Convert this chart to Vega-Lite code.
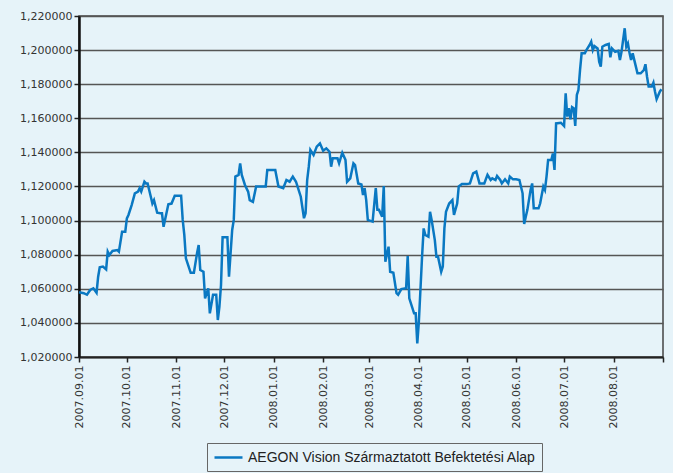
{
  "$schema": "https://vega.github.io/schema/vega-lite/v6.json",
  "autosize": {"type": "none"},
  "width": 584,
  "height": 341,
  "padding": {"left": 79, "top": 16, "right": 10, "bottom": 116},
  "background": "#e6f3f9",
  "config": {
    "view": {"stroke": "#444444", "strokeWidth": 1.5, "fill": "#e6f3f9"},
    "font": "DejaVu Sans",
    "axis": {"labelFont": "DejaVu Sans", "labelFontSize": 11, "labelColor": "#333333", "tickColor": "#222222", "domainColor": "#222222"}
  },
  "data": {"values": [
    {"d":"2007-09-01","v":1.058},{"d":"2007-09-04","v":1.0574},{"d":"2007-09-06","v":1.0565},{"d":"2007-09-08","v":1.0593},
    {"d":"2007-09-10","v":1.0603},{"d":"2007-09-12","v":1.0577},{"d":"2007-09-13","v":1.0671},{"d":"2007-09-14","v":1.0726},
    {"d":"2007-09-16","v":1.073},{"d":"2007-09-18","v":1.0714},{"d":"2007-09-19","v":1.0818},{"d":"2007-09-20","v":1.0798},
    {"d":"2007-09-22","v":1.0822},{"d":"2007-09-25","v":1.0827},{"d":"2007-09-26","v":1.0818},{"d":"2007-09-28","v":1.0935},
    {"d":"2007-09-30","v":1.0935},{"d":"2007-10-01","v":1.1013},{"d":"2007-10-02","v":1.1033},{"d":"2007-10-04","v":1.1091},
    {"d":"2007-10-06","v":1.116},{"d":"2007-10-08","v":1.117},{"d":"2007-10-09","v":1.119},{"d":"2007-10-10","v":1.117},
    {"d":"2007-10-12","v":1.1228},{"d":"2007-10-13","v":1.1218},{"d":"2007-10-14","v":1.1218},{"d":"2007-10-16","v":1.114},
    {"d":"2007-10-17","v":1.11},{"d":"2007-10-18","v":1.112},{"d":"2007-10-20","v":1.1046},{"d":"2007-10-22","v":1.1043},
    {"d":"2007-10-23","v":1.1043},{"d":"2007-10-24","v":1.0964},{"d":"2007-10-27","v":1.1096},{"d":"2007-10-29","v":1.11},
    {"d":"2007-10-31","v":1.1146},{"d":"2007-11-04","v":1.1146},{"d":"2007-11-05","v":1.1004},{"d":"2007-11-06","v":1.0916},
    {"d":"2007-11-07","v":1.0779},{"d":"2007-11-10","v":1.0694},{"d":"2007-11-12","v":1.0694},{"d":"2007-11-14","v":1.081},
    {"d":"2007-11-15","v":1.0857},{"d":"2007-11-16","v":1.071},{"d":"2007-11-18","v":1.07},{"d":"2007-11-19","v":1.0544},
    {"d":"2007-11-21","v":1.0603},{"d":"2007-11-22","v":1.0456},{"d":"2007-11-24","v":1.0565},{"d":"2007-11-26","v":1.0565},
    {"d":"2007-11-27","v":1.0417},{"d":"2007-11-28","v":1.0495},{"d":"2007-11-29","v":1.0622},{"d":"2007-11-30","v":1.0903},
    {"d":"2007-12-03","v":1.0903},{"d":"2007-12-04","v":1.0671},{"d":"2007-12-06","v":1.0945},{"d":"2007-12-07","v":1.1004},
    {"d":"2007-12-08","v":1.1258},{"d":"2007-12-10","v":1.1268},{"d":"2007-12-11","v":1.1336},{"d":"2007-12-12","v":1.1268},
    {"d":"2007-12-14","v":1.1209},{"d":"2007-12-16","v":1.117},{"d":"2007-12-17","v":1.112},{"d":"2007-12-19","v":1.111},
    {"d":"2007-12-21","v":1.12},{"d":"2007-12-27","v":1.12},{"d":"2007-12-28","v":1.1297},{"d":"2008-01-02","v":1.1297},
    {"d":"2008-01-04","v":1.12},{"d":"2008-01-07","v":1.119},{"d":"2008-01-09","v":1.1238},{"d":"2008-01-11","v":1.1228},
    {"d":"2008-01-13","v":1.1258},{"d":"2008-01-15","v":1.1228},{"d":"2008-01-18","v":1.114},{"d":"2008-01-20","v":1.1014},
    {"d":"2008-01-21","v":1.1043},{"d":"2008-01-22","v":1.1238},{"d":"2008-01-23","v":1.1316},{"d":"2008-01-24","v":1.1414},
    {"d":"2008-01-26","v":1.1385},{"d":"2008-01-28","v":1.1434},{"d":"2008-01-30","v":1.1453},{"d":"2008-02-01","v":1.141},
    {"d":"2008-02-03","v":1.1424},{"d":"2008-02-05","v":1.1404},{"d":"2008-02-06","v":1.1316},{"d":"2008-02-07","v":1.1365},
    {"d":"2008-02-10","v":1.1365},{"d":"2008-02-11","v":1.1336},{"d":"2008-02-13","v":1.1398},{"d":"2008-02-15","v":1.1356},
    {"d":"2008-02-16","v":1.1228},{"d":"2008-02-18","v":1.1248},{"d":"2008-02-20","v":1.1336},{"d":"2008-02-21","v":1.1326},
    {"d":"2008-02-23","v":1.1218},{"d":"2008-02-25","v":1.1212},{"d":"2008-02-26","v":1.115},{"d":"2008-02-27","v":1.119},
    {"d":"2008-02-28","v":1.112},{"d":"2008-02-29","v":1.1004},{"d":"2008-03-03","v":1.0994},{"d":"2008-03-05","v":1.119},
    {"d":"2008-03-06","v":1.1063},{"d":"2008-03-07","v":1.1063},{"d":"2008-03-09","v":1.1023},{"d":"2008-03-10","v":1.1203},
    {"d":"2008-03-11","v":1.0759},{"d":"2008-03-13","v":1.0847},{"d":"2008-03-14","v":1.07},{"d":"2008-03-16","v":1.0694},
    {"d":"2008-03-18","v":1.0574},{"d":"2008-03-19","v":1.0565},{"d":"2008-03-21","v":1.0598},{"d":"2008-03-24","v":1.0603},
    {"d":"2008-03-25","v":1.0792},{"d":"2008-03-26","v":1.0544},{"d":"2008-03-29","v":1.0456},{"d":"2008-03-30","v":1.0456},
    {"d":"2008-03-31","v":1.028},{"d":"2008-04-01","v":1.0407},{"d":"2008-04-03","v":1.0788},{"d":"2008-04-04","v":1.0954},
    {"d":"2008-04-05","v":1.0916},{"d":"2008-04-07","v":1.0906},{"d":"2008-04-08","v":1.1052},{"d":"2008-04-09","v":1.1004},
    {"d":"2008-04-11","v":1.0886},{"d":"2008-04-12","v":1.0788},{"d":"2008-04-13","v":1.0788},{"d":"2008-04-15","v":1.07},
    {"d":"2008-04-16","v":1.073},{"d":"2008-04-17","v":1.0954},{"d":"2008-04-18","v":1.1052},{"d":"2008-04-20","v":1.11},
    {"d":"2008-04-22","v":1.112},{"d":"2008-04-23","v":1.1033},{"d":"2008-04-25","v":1.11},{"d":"2008-04-26","v":1.12},
    {"d":"2008-04-28","v":1.1214},{"d":"2008-05-01","v":1.1214},{"d":"2008-05-03","v":1.1218},{"d":"2008-05-05","v":1.1277},
    {"d":"2008-05-07","v":1.1287},{"d":"2008-05-09","v":1.1218},{"d":"2008-05-12","v":1.1218},{"d":"2008-05-14","v":1.1268},
    {"d":"2008-05-16","v":1.1238},{"d":"2008-05-17","v":1.1248},{"d":"2008-05-19","v":1.1238},{"d":"2008-05-20","v":1.1262},
    {"d":"2008-05-22","v":1.1238},{"d":"2008-05-23","v":1.1218},{"d":"2008-05-25","v":1.1242},{"d":"2008-05-27","v":1.1218},
    {"d":"2008-05-28","v":1.1258},{"d":"2008-05-30","v":1.1242},{"d":"2008-06-01","v":1.1242},{"d":"2008-06-03","v":1.1238},
    {"d":"2008-06-05","v":1.116},{"d":"2008-06-06","v":1.098},{"d":"2008-06-07","v":1.1023},{"d":"2008-06-08","v":1.1063},
    {"d":"2008-06-10","v":1.118},{"d":"2008-06-11","v":1.1218},{"d":"2008-06-12","v":1.1072},{"d":"2008-06-15","v":1.1072},
    {"d":"2008-06-16","v":1.11},{"d":"2008-06-18","v":1.12},{"d":"2008-06-19","v":1.118},{"d":"2008-06-20","v":1.1258},
    {"d":"2008-06-21","v":1.1355},{"d":"2008-06-23","v":1.1355},{"d":"2008-06-24","v":1.1394},{"d":"2008-06-25","v":1.1297},
    {"d":"2008-06-26","v":1.157},{"d":"2008-06-29","v":1.1574},{"d":"2008-07-01","v":1.1555},{"d":"2008-07-02","v":1.1747},
    {"d":"2008-07-03","v":1.161},{"d":"2008-07-04","v":1.1659},{"d":"2008-07-05","v":1.1594},{"d":"2008-07-06","v":1.1665},
    {"d":"2008-07-07","v":1.1659},{"d":"2008-07-08","v":1.1555},{"d":"2008-07-09","v":1.1737},{"d":"2008-07-10","v":1.1766},
    {"d":"2008-07-11","v":1.1883},{"d":"2008-07-12","v":1.1981},{"d":"2008-07-14","v":1.1981},{"d":"2008-07-15","v":1.2},
    {"d":"2008-07-17","v":1.203},{"d":"2008-07-18","v":1.2049},{"d":"2008-07-19","v":1.2},{"d":"2008-07-20","v":1.2024},
    {"d":"2008-07-22","v":1.201},{"d":"2008-07-23","v":1.1932},{"d":"2008-07-24","v":1.1903},{"d":"2008-07-25","v":1.202},
    {"d":"2008-07-27","v":1.203},{"d":"2008-07-29","v":1.2036},{"d":"2008-07-30","v":1.1958},{"d":"2008-07-31","v":1.201},
    {"d":"2008-08-02","v":1.199},{"d":"2008-08-04","v":1.1996},{"d":"2008-08-05","v":1.1942},{"d":"2008-08-06","v":1.199},
    {"d":"2008-08-08","v":1.2128},{"d":"2008-08-09","v":1.202},{"d":"2008-08-10","v":1.204},{"d":"2008-08-11","v":1.1985},
    {"d":"2008-08-12","v":1.1942},{"d":"2008-08-13","v":1.1981},{"d":"2008-08-15","v":1.1903},{"d":"2008-08-16","v":1.1864},
    {"d":"2008-08-18","v":1.1864},{"d":"2008-08-20","v":1.1883},{"d":"2008-08-21","v":1.1917},{"d":"2008-08-22","v":1.1844},
    {"d":"2008-08-23","v":1.1786},{"d":"2008-08-25","v":1.1786},{"d":"2008-08-26","v":1.1809},{"d":"2008-08-27","v":1.1756},
    {"d":"2008-08-28","v":1.1712},{"d":"2008-08-30","v":1.1756},{"d":"2008-08-31","v":1.177}
  ]},
  "mark": {"type": "line", "strokeWidth": 2.5, "interpolate": "linear"},
  "encoding": {
    "x": {
      "field": "d", "type": "temporal",
      "scale": {"type": "utc", "domain": [{"year": 2007, "month": 9, "date": 1, "utc": true}, {"year": 2008, "month": 9, "date": 1, "utc": true}], "nice": false},
      "axis": {
        "title": null, "grid": false, "format": "%Y.%m.%d", "labelAngle": -90,
        "values": [
          {"year": 2007, "month": 9, "date": 1, "utc": true}, {"year": 2007, "month": 10, "date": 1, "utc": true},
          {"year": 2007, "month": 11, "date": 1, "utc": true}, {"year": 2007, "month": 12, "date": 1, "utc": true},
          {"year": 2008, "month": 1, "date": 1, "utc": true}, {"year": 2008, "month": 2, "date": 1, "utc": true},
          {"year": 2008, "month": 3, "date": 1, "utc": true}, {"year": 2008, "month": 4, "date": 1, "utc": true},
          {"year": 2008, "month": 5, "date": 1, "utc": true}, {"year": 2008, "month": 6, "date": 1, "utc": true},
          {"year": 2008, "month": 7, "date": 1, "utc": true}, {"year": 2008, "month": 8, "date": 1, "utc": true},
          {"year": 2008, "month": 9, "date": 1, "utc": true}
        ],
        "labelExpr": "utcyear(datum.value) == 2008 && utcmonth(datum.value) == 8 ? '' : datum.label",
        "labelPadding": 3, "tickSize": 5, "domainWidth": 2, "tickWidth": 1.5, "labelOverlap": false
      }
    },
    "y": {
      "field": "v", "type": "quantitative",
      "scale": {"domain": [1.02, 1.22], "nice": false, "zero": false},
      "axis": {
        "title": null,
        "values": [1.02, 1.04, 1.06, 1.08, 1.1, 1.12, 1.14, 1.16, 1.18, 1.2, 1.22],
        "labelExpr": "replace(format(datum.value, '.6f'), '.', ',')",
        "gridColor": "#555555", "gridWidth": 1.5, "gridOpacity": 1,
        "tickSize": 5, "tickWidth": 1.5, "labelPadding": 2, "domainWidth": 2.5, "domainColor": "#111111"
      }
    },
    "color": {
      "datum": "AEGON Vision Származtatott Befektetési Alap",
      "type": "nominal",
      "scale": {"range": ["#0a78c2"]},
      "legend": {
        "title": null, "orient": "none", "legendX": 128, "legendY": 427,
        "symbolType": "M-1,0H3", "symbolSize": 196, "symbolStrokeWidth": 2.5,
        "labelFont": "Liberation Sans", "labelFontSize": 14, "labelColor": "#222222", "labelLimit": 400,
        "strokeColor": "#666666", "fillColor": "#e6f3f9", "padding": 6, "labelOffset": 18
      }
    }
  }
}
